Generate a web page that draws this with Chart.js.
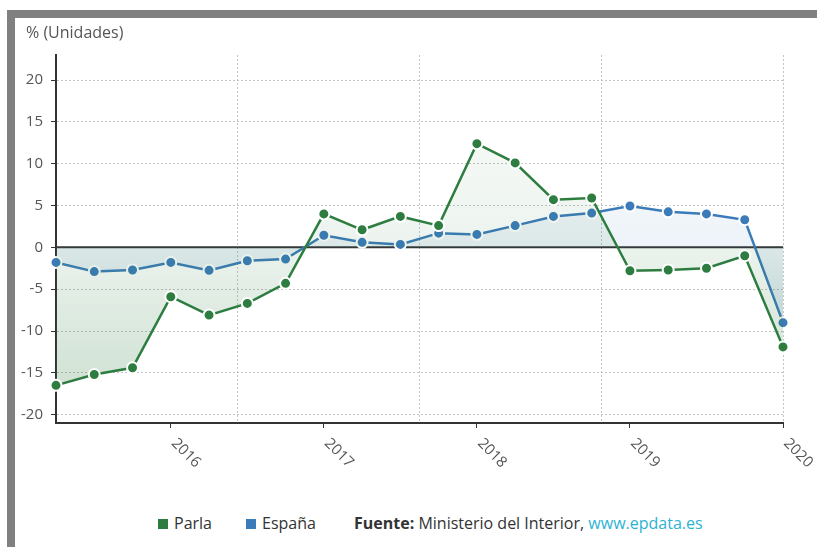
<!DOCTYPE html>
<html lang="es">
<head>
  <meta charset="UTF-8">
  <title>Parla vs España</title>
  <script src="https://cdn.jsdelivr.net/npm/chart.js"></script>
  <style>
    body { margin:0; width:817px; height:547px; overflow:hidden; background:#fff; font-family:"Open Sans", sans-serif; }
    #frame { position:absolute; left:7px; top:10px; width:810px; height:537px; box-sizing:border-box;
             border-top:8px solid #808080; border-left:8px solid #808080; }
    #chart { position:absolute; left:15px; top:18px; }
    #ttl { position:absolute; left:26px; top:21px; font-size:16px; color:#555; line-height:22px; }
    .lg { position:absolute; top:511px; font-size:16px; color:#333; white-space:nowrap; line-height:24px; }
    .lg i { display:inline-block; width:10px; height:10px; margin-right:6px; vertical-align:0px; }
    .lg a { color:#2db2d3; text-decoration:none; }
  </style>
</head>
<body>
  <div id="frame"></div>
  <canvas id="chart" width="802" height="490"></canvas>
  <div id="ttl">% (Unidades)</div>
  <div class="lg" style="left:158px"><i style="background:#2e7d40"></i>Parla</div>
  <div class="lg" style="left:246px"><i style="background:#3b7bb9"></i>España</div>
  <div class="lg" style="left:354px"><b>Fuente:</b> Ministerio del Interior, <a>www.epdata.es</a></div>

  <script>
    // trimestres 2015 T2 .. 2020 T1
    const quarters = [
      '2015 T2','2015 T3','2015 T4',
      '2016 T1','2016 T2','2016 T3','2016 T4',
      '2017 T1','2017 T2','2017 T3','2017 T4',
      '2018 T1','2018 T2','2018 T3','2018 T4',
      '2019 T1','2019 T2','2019 T3','2019 T4',
      '2020 T1'
    ];
    const parla  = [-16.5,-15.2,-14.4,-5.9,-8.1,-6.7,-4.3,4.0,2.1,3.7,2.6,12.4,10.1,5.7,5.9,-2.8,-2.7,-2.5,-1.0,-11.9];
    const espana = [-1.8,-2.9,-2.7,-1.8,-2.75,-1.6,-1.4,1.45,0.6,0.35,1.7,1.55,2.6,3.7,4.1,4.95,4.25,4.0,3.3,-9.0];
    const yTicks = [-20,-15,-10,-5,0,5,10,15,20];
    const yMin = -21, yMax = 23;
    const gridX = [4.75, 9.5, 14.25, 19];

    const GREEN = [46,125,64], BLUE = [59,123,185];
    const rgba = (c,a) => `rgba(${c[0]},${c[1]},${c[2]},${a})`;

    function areaFill(c) {
      return ctx => {
        const area = ctx.chart.chartArea;
        if (!area) return rgba(c,0.1);
        const g = ctx.chart.ctx.createLinearGradient(0, area.top, 0, area.bottom);
        g.addColorStop(0, rgba(c,0.01));
        g.addColorStop(0.5, rgba(c,0.085));
        g.addColorStop(1, rgba(c,0.26));
        return g;
      };
    }

    function series(label, data, c) {
      return {
        label, data,
        borderColor: rgba(c,1),
        backgroundColor: areaFill(c),
        fill: 'origin',
        borderWidth: 2.5,
        tension: 0,
        pointRadius: 5.5,
        pointBorderWidth: 2,
        pointBorderColor: '#fff',
        pointBackgroundColor: rgba(c,1),
        clip: false
      };
    }

    // linea del cero
    const zeroLine = {
      id: 'zeroLine',
      beforeDatasetsDraw(chart) {
        const {ctx, chartArea:a, scales:{y}} = chart;
        const py = y.getPixelForValue(0);
        ctx.save();
        ctx.strokeStyle = '#333'; ctx.lineWidth = 2;
        ctx.beginPath(); ctx.moveTo(a.left, py); ctx.lineTo(a.right, py); ctx.stroke();
        ctx.restore();
      }
    };

    // etiquetas de año giradas 45° (sentido horario)
    const yearLabels = {
      id: 'yearLabels',
      afterDraw(chart) {
        const x = chart.scales.x, c = chart.ctx;
        c.save();
        c.font = '15px "Open Sans"'; c.fillStyle = '#555';
        c.textAlign = 'left'; c.textBaseline = 'middle';
        quarters.forEach((q,i) => {
          if (!q.endsWith('T1')) return;
          c.save();
          c.translate(x.getPixelForValue(i) + 3, x.top + 18);
          c.rotate(Math.PI/4);
          c.fillText(q.slice(0,4), 0, 0);
          c.restore();
        });
        c.restore();
      }
    };

    Chart.defaults.font.family = '"Open Sans"';

    new Chart(document.getElementById('chart'), {
      type: 'line',
      data: { labels: quarters, datasets: [series('Parla', parla, GREEN), series('España', espana, BLUE)] },
      options: {
        responsive: false, animation: false,
        layout: { padding: { left: 0, right: 34, top: 37, bottom: 0 } },
        events: [],
        plugins: {
          legend: { display: false },
          tooltip: { enabled: false }
        },
        scales: {
          x: {
            type: 'category', offset: false,
            afterFit: s => { s.height = 85; },
            ticks: { display: false, autoSkip: false },
            grid: { drawOnChartArea: false, tickLength: 5,
                    tickColor: ctx => quarters[ctx.index] && quarters[ctx.index].endsWith('T1') ? '#333' : 'transparent' },
            border: { color: '#333', width: 2 }
          },
          xg: {
            type: 'linear', position: 'top', min: 0, max: quarters.length - 1,
            afterBuildTicks: s => { s.ticks = gridX.map(v => ({ value: v })); },
            afterFit: s => { s.height = 0; },
            ticks: { display: false },
            grid: { color: '#c4c4c4', lineWidth: 1, drawTicks: false },
            border: { display: false, dash: [2,2] }
          },
          y: {
            min: yMin, max: yMax,
            afterBuildTicks: s => { s.ticks = yTicks.map(v => ({ value: v })); },
            afterFit: s => { s.width = 41; },
            ticks: { color: '#555', padding: 8, font: { size: 15 } },
            grid: { color: '#c4c4c4', tickColor: '#333', tickLength: 5, lineWidth: 1, tickBorderDash: [] },
            border: { color: '#333', width: 2, dash: [2,2] }
          }
        }
      },
      plugins: [zeroLine, yearLabels]
    });
  </script>
</body>
</html>
